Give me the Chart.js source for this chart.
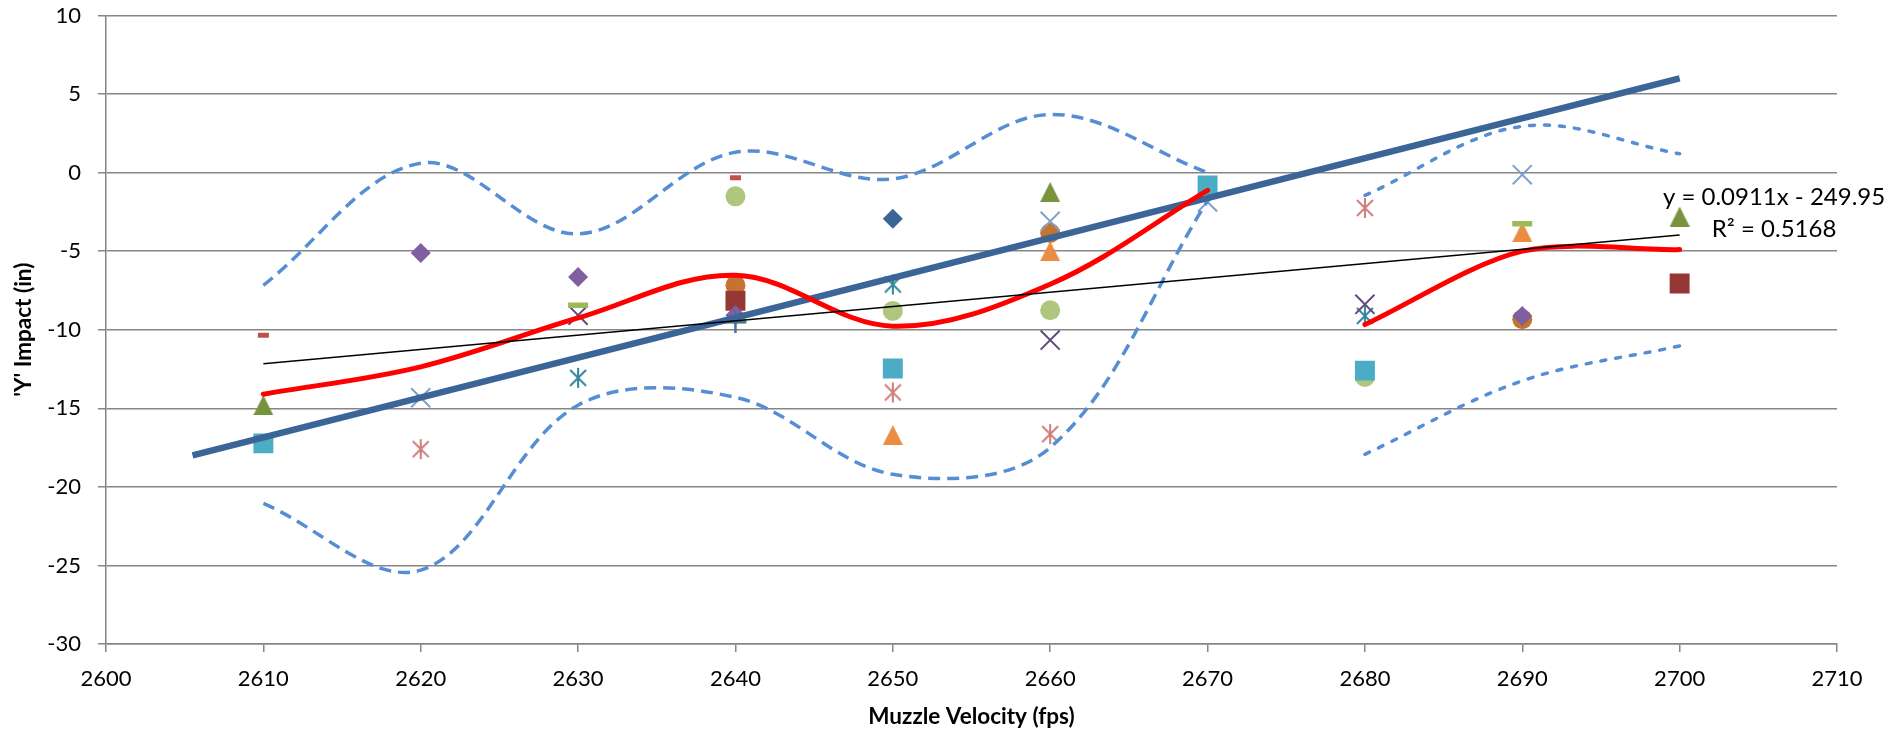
<!DOCTYPE html>
<html>
<head>
<meta charset="utf-8">
<script src="https://cdn.jsdelivr.net/npm/chart.js@4.4.0/dist/chart.umd.min.js"></script>
<style>
  html, body { margin: 0; padding: 0; background: #fff; }
  #wrap { width: 1888px; height: 734px; }
</style>
</head>
<body>
<div id="wrap"><canvas id="grafico" width="1888" height="734"></canvas></div>
<script>
// puntos medidos: [velocidad (fps), impacto Y (in)]
const blueDiamond    = [[2650, -2.93]];
const purpleDiamond  = [[2620, -5.11], [2630, -6.64], [2640, -9.07], [2690, -9.12]];
const redDash        = [[2610, -10.35], [2640, -0.32]];
const greenDash      = [[2630, -8.44], [2640, -9.45], [2690, -3.25]];
const tealSquare     = [[2610, -17.23], [2650, -12.47], [2670, -0.81], [2680, -12.6]];
const darkRedSquare  = [[2640, -8.16], [2700, -7.06]];
const oliveTriangle  = [[2610, -14.8], [2660, -1.23], [2700, -2.8]];
const orangeTriangle = [[2650, -16.7], [2660, -4.99], [2690, -3.78]];
const lightBlueX     = [[2620, -14.33], [2660, -3.1], [2670, -1.87], [2690, -0.13]];
const darkPurpleX    = [[2630, -9.07], [2660, -10.66], [2680, -8.38]];
const tealAsterisk   = [[2630, -13.06], [2650, -7.12], [2680, -9.12]];
const pinkAsterisk   = [[2620, -17.6], [2650, -13.99], [2660, -16.64], [2680, -2.25]];
const greenCircle    = [[2640, -1.51], [2650, -8.8], [2660, -8.76], [2680, -13.0]];
const orangeCircle   = [[2640, -7.17], [2660, -3.84], [2690, -9.33]];
const bluePlus       = [[2640, -9.5]];

// curvas
const avgX1 = [2610, 2620, 2630, 2640, 2650, 2660, 2670];
const avgY1 = [-14.1, -12.36, -9.25, -6.53, -9.77, -7.1, -1.13];
const avgX2 = [2680, 2690, 2700];
const avgY2 = [-9.67, -5.0, -4.9];
const upperY1 = [-7.17, 0.6, -3.9, 1.3, -0.4, 3.7, 0.0];
const lowerY1 = [-21.05, -25.3, -14.8, -14.3, -19.2, -17.5, -1.8];
const upperY2 = [-1.45, 2.95, 1.2];
const lowerY2 = [-17.93, -13.25, -11.03];
const fitX = [2605.5, 2700];
const fitY = [-18, 6];
const trendX = [2610, 2700];
const trendY = [-12.17, -3.97];
const eqLines = ['y = 0.0911x - 249.95', 'R\u00B2 = 0.5168'];

const xTicks = [2600, 2610, 2620, 2630, 2640, 2650, 2660, 2670, 2680, 2690, 2700, 2710];
const yTicks = [-30, -25, -20, -15, -10, -5, 0, 5, 10];

const toPts = arr => arr.map(p => ({x: p[0], y: p[1]}));
const zip = (xs, ys) => xs.map((x, i) => ({x: x, y: ys[i]}));

// marcadores propios (triangulo centrado y asterisco estilo Excel)
function triangulo(color) {
  const c = document.createElement('canvas');
  c.width = 20; c.height = 20;
  const g = c.getContext('2d');
  g.fillStyle = color;
  g.beginPath();
  g.moveTo(10, 0); g.lineTo(20, 20); g.lineTo(0, 20); g.closePath();
  g.fill();
  return c;
}
function asterisco(color) {
  const c = document.createElement('canvas');
  c.width = 22; c.height = 22;
  const g = c.getContext('2d');
  g.strokeStyle = color;
  g.lineWidth = 2;
  g.beginPath();
  g.moveTo(3, 3); g.lineTo(19, 19);
  g.moveTo(19, 3); g.lineTo(3, 19);
  g.moveTo(11, 1); g.lineTo(11, 21);
  g.stroke();
  return c;
}

function marcas(data, style, color, radius, border) {
  return {
    data: toPts(data),
    pointStyle: style,
    pointRadius: radius,
    pointBackgroundColor: color,
    pointBorderColor: color,
    pointBorderWidth: border || 0,
    showLine: false,
    order: 5
  };
}

function curva(data, color, width, dash, tension, order, cap) {
  return {
    data: data,
    showLine: true,
    pointRadius: 0,
    borderColor: color,
    borderWidth: width,
    borderDash: dash,
    borderCapStyle: cap || 'butt',
    tension: tension,
    order: order
  };
}

const etiquetaEcuacion = {
  id: 'etiquetaEcuacion',
  afterDatasetsDraw(chart) {
    const ctx = chart.ctx;
    const x = chart.scales.x.getPixelForValue(2706);
    ctx.save();
    ctx.font = '24px Lato';
    ctx.fillStyle = '#000';
    ctx.textAlign = 'center';
    ctx.textBaseline = 'middle';
    ctx.fillText(eqLines[0], x, chart.scales.y.getPixelForValue(-1.57));
    ctx.fillText(eqLines[1], x, chart.scales.y.getPixelForValue(-3.62));
    ctx.restore();
  }
};

const grisEje = '#868686';

new Chart(document.getElementById('grafico').getContext('2d'), {
  type: 'scatter',
  data: {
    datasets: [
      curva(zip(trendX, trendY), '#000000', 1.5, [], 0, 0),
      curva(zip(avgX1, avgY1), '#FF0000', 5, [], 0.35, 1, 'round'),
      curva(zip(avgX2, avgY2), '#FF0000', 5, [], 0.3, 1, 'round'),
      curva(zip(fitX, fitY), '#3B6597', 6.5, [], 0, 2),
      curva(zip(avgX1, upperY1), '#558ED5', 3.5, [12, 7], 0.35, 3),
      curva(zip(avgX1, lowerY1), '#558ED5', 3.5, [12, 7], 0.35, 3),
      curva(zip(avgX2, upperY2), '#558ED5', 3.5, [5, 10], 0.35, 3, 'round'),
      curva(zip(avgX2, lowerY2), '#558ED5', 3.5, [5, 10], 0.35, 3, 'round'),
      marcas(bluePlus, 'cross', '#44729F', 11, 2.5),
      marcas(blueDiamond, 'rectRot', '#3B6597', 10),
      marcas(purpleDiamond, 'rectRot', '#7F5FA0', 10),
      marcas(redDash, 'line', '#C0504D', 5.5, 5),
      marcas(greenDash, 'line', '#9BBB59', 10, 5.5),
      marcas(tealSquare, 'rect', '#4BACC6', 14.1),
      marcas(darkRedSquare, 'rect', '#953735', 14.1),
      marcas(oliveTriangle, triangulo('#77933C'), '#77933C', 10),
      marcas(orangeTriangle, triangulo('#EB8C43'), '#EB8C43', 10),
      marcas(lightBlueX, 'crossRot', '#7F9FCF', 13.5, 2),
      marcas(darkPurpleX, 'crossRot', '#604A7B', 13.5, 2),
      marcas(tealAsterisk, asterisco('#31859C'), '#31859C', 10),
      marcas(pinkAsterisk, asterisco('#D07D7B'), '#D07D7B', 10),
      marcas(greenCircle, 'circle', '#AEC67E', 10),
      marcas(orangeCircle, 'circle', '#C4742F', 10)
    ]
  },
  options: {
    responsive: false,
    animation: false,
    events: [],
    layout: { padding: { top: 15, right: 51, left: 0, bottom: 0 } },
    plugins: {
      legend: { display: false },
      tooltip: { enabled: false }
    },
    scales: {
      x: {
        type: 'linear',
        min: xTicks[0],
        max: xTicks[xTicks.length - 1],
        afterBuildTicks: s => { s.ticks = xTicks.map(v => ({value: v})); },
        afterFit: s => { s.height = 90; },
        grid: { drawOnChartArea: false, drawTicks: true, tickLength: 8, color: grisEje, lineWidth: 1.5 },
        border: { display: true, color: grisEje, width: 1.5 },
        ticks: { color: '#000', font: { family: 'Lato', size: 22 }, padding: 14, callback: v => String(v) },
        title: { display: true, text: 'Muzzle Velocity (fps)', color: '#000',
                 font: { family: 'Lato', size: 22.5, weight: 'bold' }, padding: { top: 4, bottom: 4 } }
      },
      y: {
        min: yTicks[0],
        max: yTicks[yTicks.length - 1],
        afterBuildTicks: s => { s.ticks = yTicks.map(v => ({value: v})); },
        // el padding de las etiquetas no debe empujar el area del grafico
        afterFit: s => { s.width = 106; s.paddingTop = 0; s.paddingBottom = 0; },
        grid: { drawTicks: true, tickLength: 8, color: grisEje, lineWidth: 1.5 },
        border: { display: true, color: grisEje, width: 1.5 },
        ticks: { color: '#000', font: { family: 'Lato', size: 22 }, padding: 17, callback: v => String(v) },
        title: { display: true, text: "'Y' Impact (in)", color: '#000',
                 font: { family: 'Lato', size: 22.5, weight: 'bold' }, padding: { top: 10, bottom: 4 } }
      }
    }
  },
  plugins: [etiquetaEcuacion]
});
</script>
</body>
</html>
